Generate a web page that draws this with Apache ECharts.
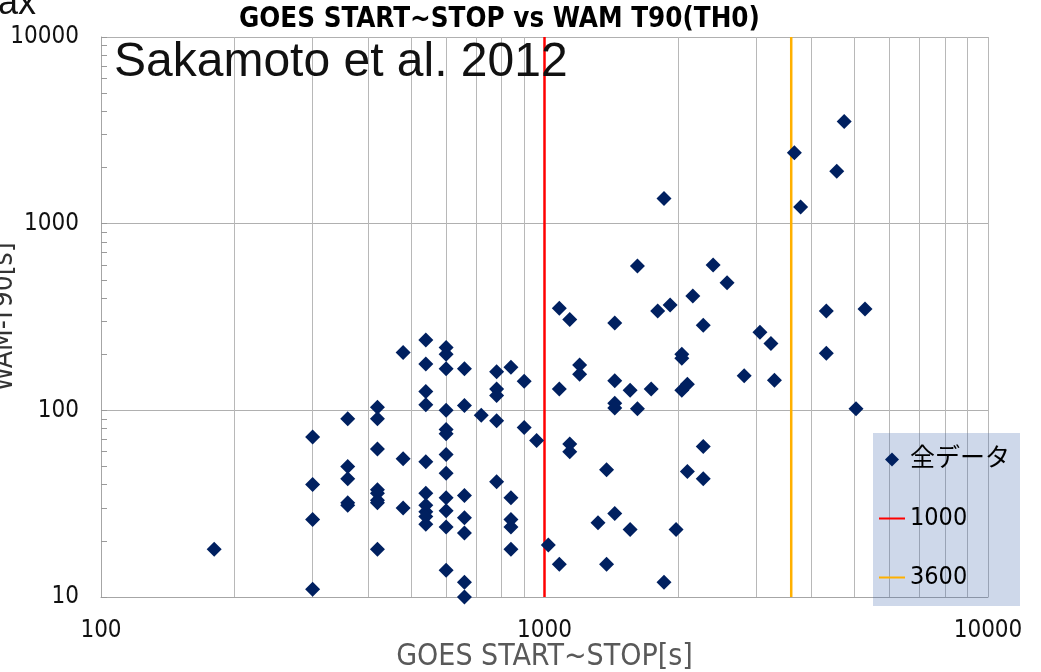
<!DOCTYPE html>
<html>
<head>
<meta charset="utf-8">
<script src="https://cdn.jsdelivr.net/npm/echarts@6/dist/echarts.min.js"></script>
<style>
html, body { margin: 0; padding: 0; background: #fff; }
#chart { width: 1041px; height: 672px; }
</style>
</head>
<body>
<div id="chart"></div>
<script>
// GOES start~stop duration [s] vs WAM T90 [s], one entry per flare
var goesDuration = [
    180,
    300, 300, 300, 300,
    360, 360, 360, 360, 360,
    420, 420, 420, 420, 420, 420, 420, 420,
    480, 480, 480,
    540, 540, 540, 540, 540, 540, 540, 540, 540, 540,
    600, 600, 600, 600, 600, 600, 600, 600, 600, 600, 600, 600,
    660, 660, 660, 660, 660, 660, 660,
    720,
    780, 780, 780, 780, 780,
    840, 840, 840, 840, 840,
    900, 900,
    960,
    1020,
    1080, 1080, 1080,
    1140, 1140, 1140,
    1200, 1200,
    1320,
    1380, 1380,
    1440, 1440, 1440, 1440, 1440,
    1560, 1560,
    1620, 1620,
    1740,
    1800,
    1860, 1860,
    1920,
    1980,
    2040, 2040, 2040,
    2100, 2100,
    2160,
    2280, 2280, 2280,
    2400,
    2580,
    2820,
    3060,
    3240,
    3300,
    3660,
    3780,
    4320, 4320,
    4560,
    4740,
    5040,
    5280
];
var wamT90 = [
    18,
    72, 40, 26, 11,
    90, 50, 43, 32, 31,
    104, 90, 62, 37.5, 36, 33, 32, 18,
    204, 55, 30,
    238, 177, 126, 107, 53, 36, 31, 28.6, 27, 24.5,
    217, 200, 167, 100, 79, 75, 58, 46, 34, 29, 23.7, 13.9,
    167, 106, 35, 26.6, 22, 12, 10,
    94,
    161, 130, 120, 88, 41.5,
    170, 34, 26, 23.7, 18,
    143, 81,
    69,
    19,
    352, 130, 15,
    307, 66, 60,
    175, 156,
    25,
    48, 15,
    294, 144, 109, 103, 28,
    128, 23,
    102, 594,
    130,
    341,
    1362, 12,
    367,
    23,
    200, 190, 128,
    138, 47,
    410,
    286, 64, 43,
    600,
    483,
    153,
    262,
    228,
    145,
    2399,
    1229,
    341, 202,
    1911,
    3521,
    102,
    349
];
var thresholds = [1000, 3600];
var seriesNames = ['全データ', '1000', '3600'];

var xLabelValues = [100, 1000, 10000];
var xGridValues = [100, 200, 300, 400, 500, 600, 700, 800, 900,
    1000, 2000, 3000, 4000, 5000, 6000, 7000, 8000, 9000, 10000];
var yLabelValues = [10, 100, 1000, 10000];
var yTickValues = [10, 20, 30, 40, 50, 60, 70, 80, 90,
    100, 200, 300, 400, 500, 600, 700, 800, 900,
    1000, 2000, 3000, 4000, 5000, 6000, 7000, 8000, 9000, 10000];

var narrow = "'Liberation Sans Narrow', 'DejaVu Sans Condensed', 'Liberation Sans', sans-serif";
var plain = function (v) { return String(v); };

var points = goesDuration.map(function (x, i) { return [x, wamT90[i]]; });
var yMin = yLabelValues[0], yMax = yLabelValues[yLabelValues.length - 1];

var chart = echarts.init(document.getElementById('chart'));
var option = {
    animation: false,
    backgroundColor: '#fff',
    graphic: [
        {
            type: 'text', left: 239, top: 6,
            style: { text: 'GOES START~STOP vs WAM T90(TH0)', fill: '#000', font: 'bold 27.5px ' + narrow }
        },
        {
            type: 'text', left: 114, top: 39, z: 10,
            style: { text: 'Sakamoto et al. 2012', fill: '#111', font: '48px "Liberation Sans", sans-serif' }
        },
        {
            type: 'text', left: -2, top: -14,
            style: { text: 'ax', fill: '#111', font: '36px "Liberation Sans", sans-serif' }
        }
    ],
    grid: { left: 101, top: 37, right: 53, bottom: 75, outerBoundsMode: 'none', containLabel: false },
    legend: {
        orient: 'vertical',
        left: 873,
        top: 433,
        padding: [14, 10, 16, 6],
        itemGap: 34,
        itemWidth: 26,
        itemHeight: 14,
        backgroundColor: 'rgba(60,100,170,0.25)',
        textStyle: { fontSize: 25, color: '#000', fontFamily: narrow + ", 'Noto Sans CJK JP'" },
        data: [
            { name: seriesNames[0], icon: 'path://M7,0 L14,7 L7,14 L0,7 Z' },
            { name: seriesNames[1], icon: 'path://M0,0 L26,0 L26,2 L0,2 Z' },
            { name: seriesNames[2], icon: 'path://M0,0 L26,0 L26,2 L0,2 Z' }
        ]
    },
    xAxis: {
        type: 'log',
        logBase: 10,
        min: 100,
        max: 10000,
        name: 'GOES START~STOP[s]',
        nameLocation: 'middle',
        nameGap: 45,
        nameMoveOverlap: false,
        nameTextStyle: { fontSize: 30, color: '#595959', fontFamily: narrow },
        axisLine: { show: true, lineStyle: { color: '#a6a6a6', width: 1 } },
        axisTick: { show: false, customValues: xGridValues },
        axisLabel: { customValues: xLabelValues, formatter: plain, fontSize: 24, color: '#111', margin: 22, fontFamily: narrow },
        splitLine: { show: true, lineStyle: { color: '#b8b8b8', width: 1 } }
    },
    yAxis: [
        {
            type: 'log',
            logBase: 10,
            min: yMin,
            max: yMax,
            name: 'WAM-T90[s]',
            nameLocation: 'middle',
            nameGap: 82,
            nameMoveOverlap: false,
            nameTextStyle: { fontSize: 28, color: '#333', fontFamily: narrow },
            axisLine: { show: true, lineStyle: { color: '#a6a6a6', width: 1 } },
            axisTick: { show: false, customValues: yLabelValues },
            axisLabel: { customValues: yLabelValues, formatter: plain, fontSize: 24, color: '#111', margin: 22, fontFamily: narrow },
            splitLine: { show: true, lineStyle: { color: '#b0b0b0', width: 1 } }
        },
        {
            type: 'log',
            logBase: 10,
            min: yMin,
            max: yMax,
            position: 'left',
            axisLine: { show: false },
            axisLabel: { show: false },
            splitLine: { show: false },
            axisTick: { show: true, inside: true, length: 6, customValues: yTickValues, lineStyle: { color: '#9a9a9a' } }
        }
    ],
    series: [
        {
            name: seriesNames[0],
            type: 'scatter',
            symbol: 'diamond',
            symbolSize: 15,
            itemStyle: { color: '#002060', opacity: 1 },
            z: 5,
            data: points
        },
        {
            name: seriesNames[1],
            type: 'line',
            symbol: 'none',
            lineStyle: { color: '#ff0000', width: 2.5 },
            itemStyle: { color: '#ff0000' },
            z: 3,
            data: [[thresholds[0], yMin], [thresholds[0], yMax]]
        },
        {
            name: seriesNames[2],
            type: 'line',
            symbol: 'none',
            lineStyle: { color: '#ffb000', width: 2.5 },
            itemStyle: { color: '#ffb000' },
            z: 3,
            data: [[thresholds[1], yMin], [thresholds[1], yMax]]
        }
    ]
};
chart.setOption(option);
window.onresize = chart.resize;
</script>
</body>
</html>
